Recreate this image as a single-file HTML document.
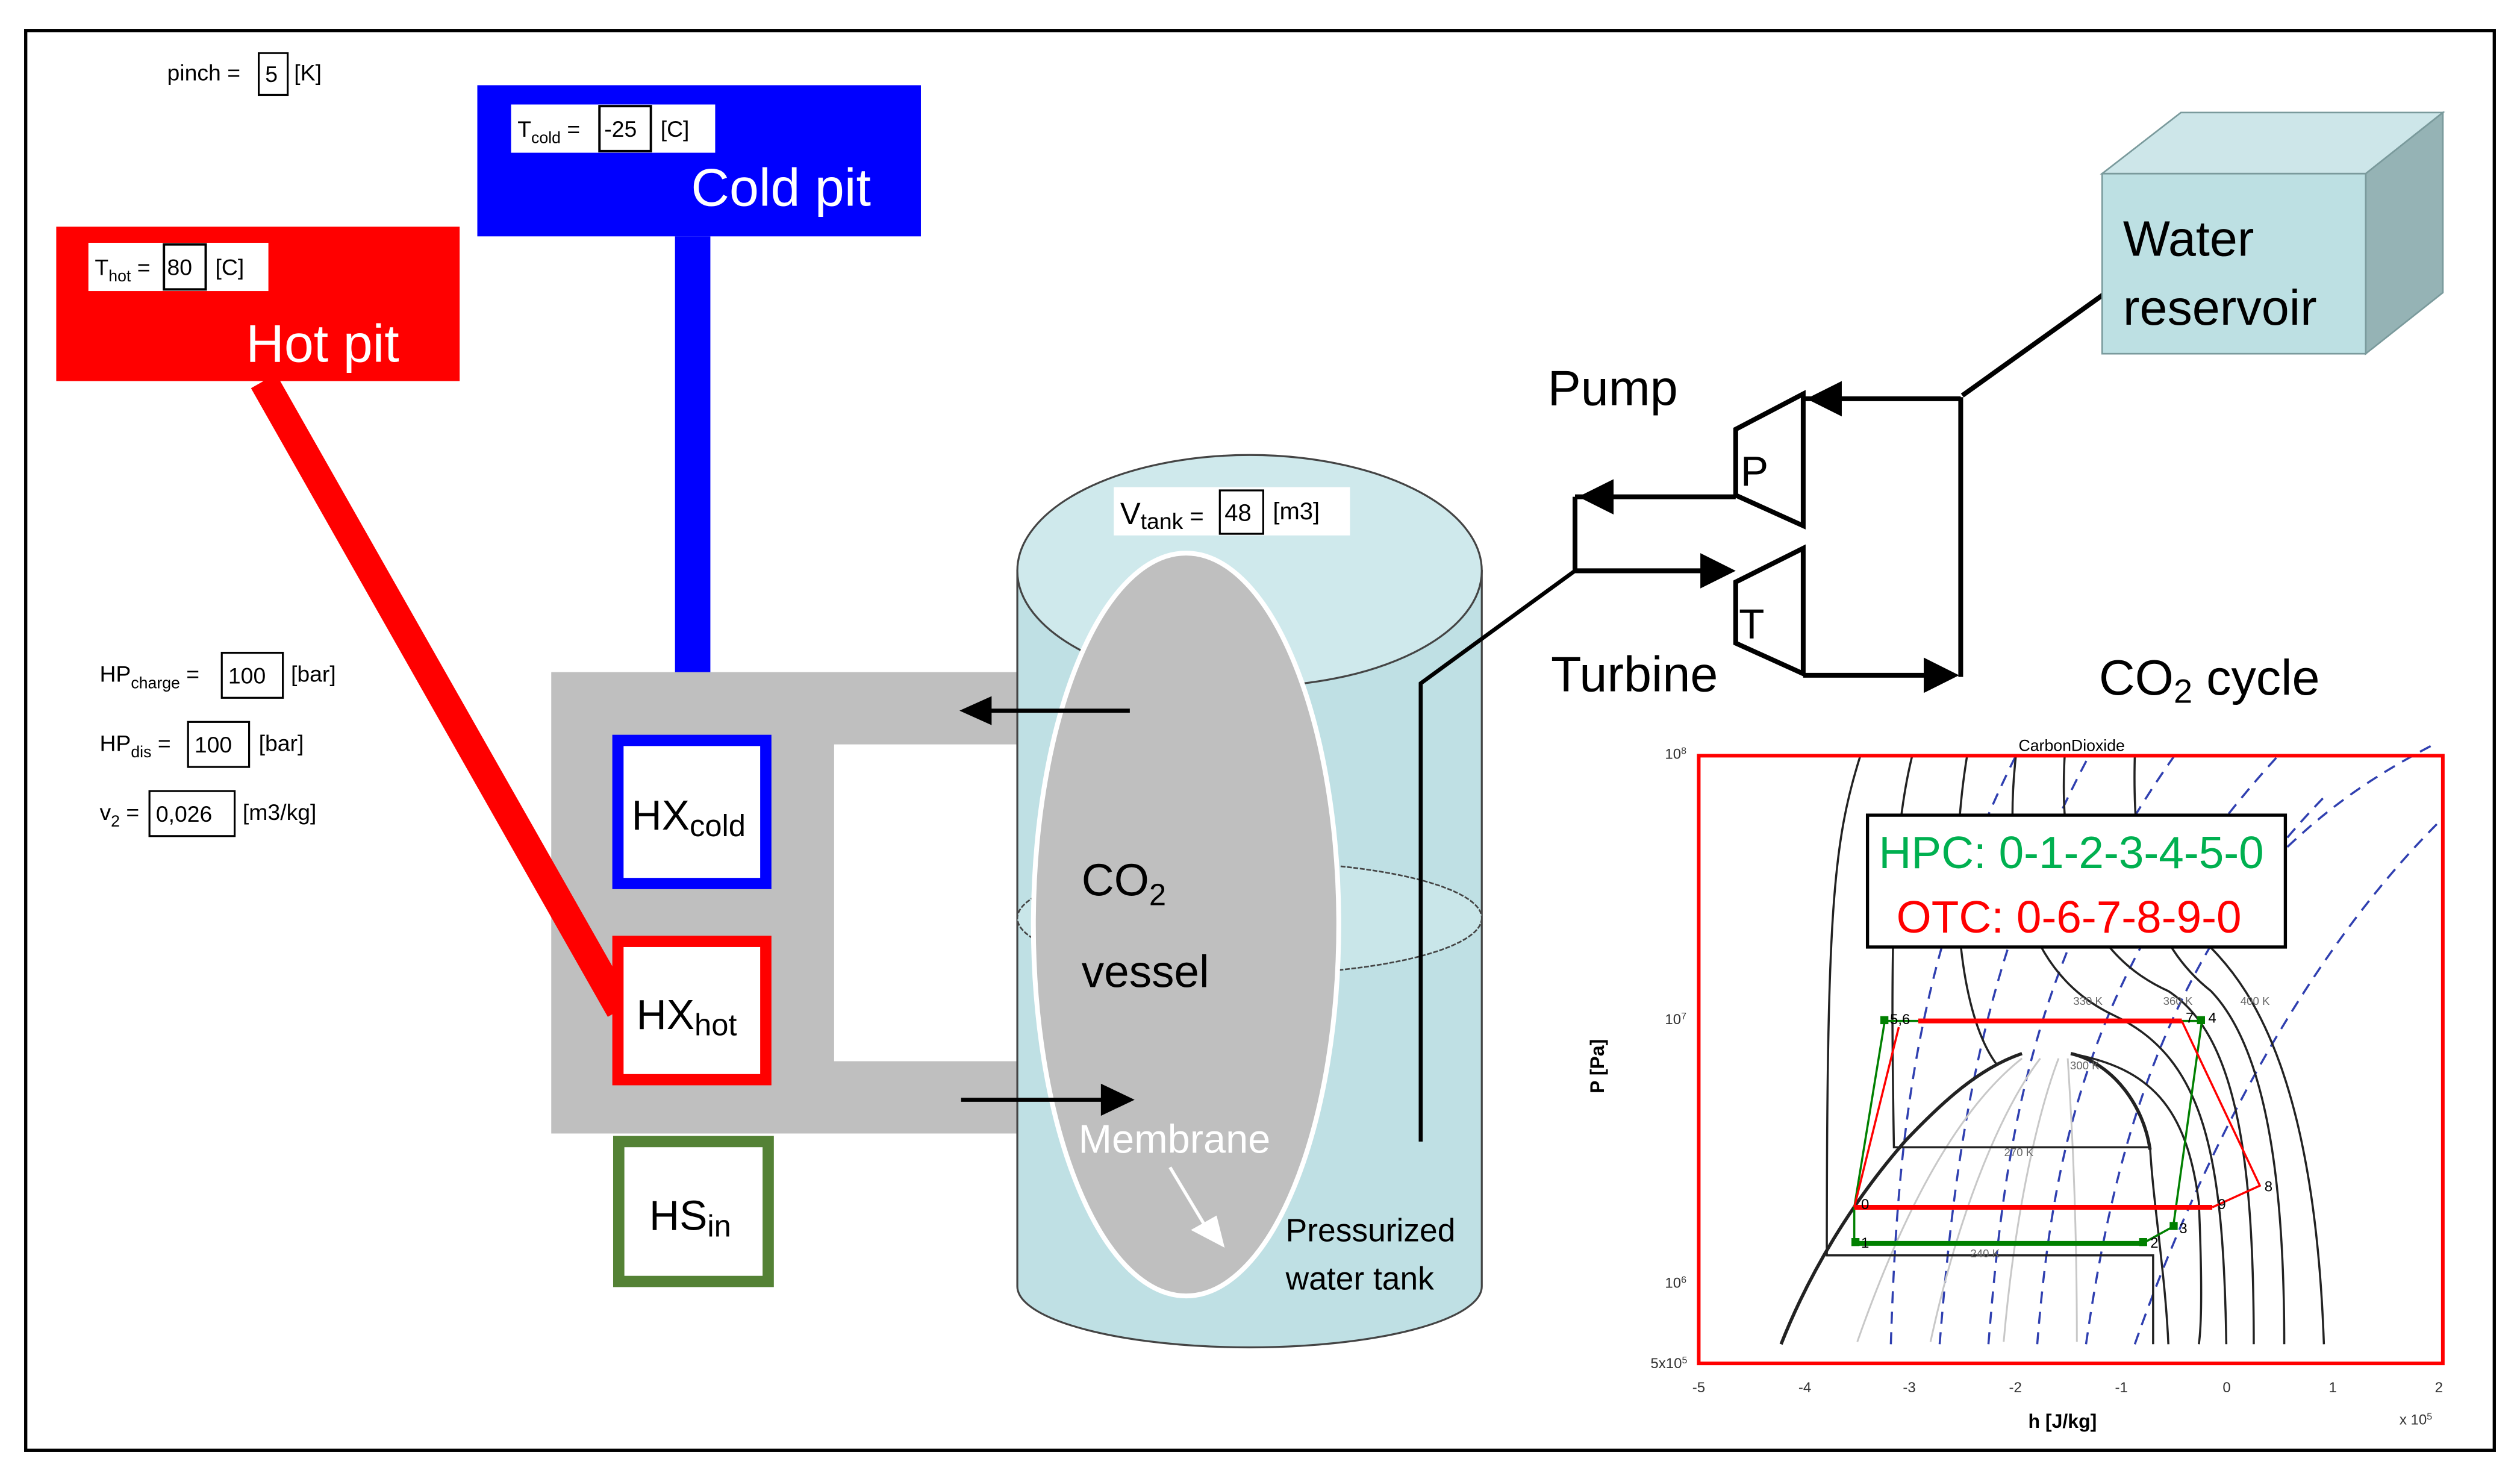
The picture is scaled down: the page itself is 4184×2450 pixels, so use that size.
<!DOCTYPE html>
<html><head><meta charset="utf-8"><style>
html,body{margin:0;padding:0;background:#fff;}
svg{display:block;}
text{font-family:"Liberation Sans",sans-serif;}
</style></head><body>
<svg width="4184" height="2450" viewBox="0 0 1568 918" preserveAspectRatio="none" xmlns="http://www.w3.org/2000/svg">
<rect x="0" y="0" width="1568" height="918" fill="#fff"/>
<rect x="16" y="19" width="1536" height="883" fill="none" stroke="#000" stroke-width="2"/>

<text x="104" y="50" font-size="14">pinch =</text>
<rect x="161" y="33" width="18" height="26" fill="#fff" stroke="#000" stroke-width="1.2"/>
<text x="165" y="51" font-size="14">5</text>
<text x="183" y="50" font-size="14">[K]</text>

<rect x="297" y="53" width="276" height="94" fill="#0000ff"/>
<rect x="318" y="65" width="127" height="30" fill="#fff"/>
<text x="322" y="85" font-size="14">T<tspan font-size="10" dy="4">cold</tspan><tspan dy="-4"> =</tspan></text>
<rect x="373" y="66" width="32" height="28" fill="#fff" stroke="#000" stroke-width="1.5"/>
<text x="376" y="85" font-size="14">-25</text>
<text x="411" y="85" font-size="14">[C]</text>
<text x="430" y="128" font-size="33" fill="#fff">Cold pit</text>
<rect x="420" y="147" width="22" height="313" fill="#0000ff"/>

<rect x="35" y="141" width="251" height="96" fill="#ff0000"/>
<rect x="55" y="151" width="112" height="30" fill="#fff"/>
<text x="59" y="171" font-size="14">T<tspan font-size="10" dy="4">hot</tspan><tspan dy="-4"> =</tspan></text>
<rect x="102" y="152" width="26" height="28" fill="#fff" stroke="#000" stroke-width="1.5"/>
<text x="104" y="171" font-size="14">80</text>
<text x="134" y="171" font-size="14">[C]</text>
<text x="153" y="225" font-size="33" fill="#fff">Hot pit</text>

<path d="M343,418 H660 V705 H343 Z M519,463 V660 H640 V463 Z" fill="#bfbfbf" fill-rule="evenodd"/>
<line x1="164" y1="237" x2="386" y2="628" stroke="#ff0000" stroke-width="18"/>

<rect x="384.5" y="460.5" width="92" height="89" fill="#fff" stroke="#0000ff" stroke-width="7"/>
<text x="393" y="516" font-size="26">HX<tspan font-size="19" dy="4">cold</tspan></text>
<rect x="384.5" y="585.5" width="92" height="86" fill="#fff" stroke="#ff0000" stroke-width="7"/>
<text x="396" y="640" font-size="26">HX<tspan font-size="19" dy="4">hot</tspan></text>
<rect x="385" y="710" width="93" height="87" fill="#fff" stroke="#548235" stroke-width="7"/>
<text x="404" y="765" font-size="26">HS<tspan font-size="19" dy="4">in</tspan></text>

<text x="62" y="424" font-size="14">HP<tspan font-size="10" dy="4">charge</tspan><tspan dy="-4"> =</tspan></text>
<rect x="138" y="406" width="38" height="28" fill="#fff" stroke="#000" stroke-width="1.2"/>
<text x="142" y="425" font-size="14">100</text>
<text x="181" y="424" font-size="14">[bar]</text>
<text x="62" y="467" font-size="14">HP<tspan font-size="10" dy="4">dis</tspan><tspan dy="-4"> =</tspan></text>
<rect x="117" y="449" width="38" height="28" fill="#fff" stroke="#000" stroke-width="1.2"/>
<text x="121" y="468" font-size="14">100</text>
<text x="161" y="467" font-size="14">[bar]</text>
<text x="62" y="510" font-size="14">v<tspan font-size="10" dy="4">2</tspan><tspan dy="-4"> =</tspan></text>
<rect x="93" y="492" width="53" height="28" fill="#fff" stroke="#000" stroke-width="1.2"/>
<text x="97" y="511" font-size="14">0,026</text>
<text x="151" y="510" font-size="14">[m3/kg]</text>

<path d="M633,355 V800 A144.5,38 0 0 0 922,800 V355 Z" fill="#bfe0e4" stroke="#444" stroke-width="1.2"/>
<ellipse cx="777.5" cy="355" rx="144.5" ry="72" fill="#cfe9ec" stroke="#444" stroke-width="1.2"/>
<ellipse cx="777.5" cy="571" rx="144.5" ry="35" fill="#c9e6e9" stroke="#444" stroke-width="1" stroke-dasharray="3,1"/>
<ellipse cx="738" cy="575" rx="95" ry="231" fill="#bfbfbf" stroke="#fff" stroke-width="3"/>
<rect x="693" y="303" width="147" height="30" fill="#fff"/>
<text x="697" y="326" font-size="19">V<tspan font-size="14" dy="3">tank</tspan><tspan dy="-3" font-size="15"> =</tspan></text>
<rect x="759" y="305" width="27" height="27" fill="#fff" stroke="#000" stroke-width="1.2"/>
<text x="762" y="324" font-size="15">48</text>
<text x="792" y="323" font-size="15">[m3]</text>
<text x="673" y="557" font-size="28">CO<tspan font-size="19" dy="6">2</tspan></text>
<text x="673" y="614" font-size="28">vessel</text>
<text x="671" y="717" font-size="25" fill="#fff">Membrane</text>
<line x1="728" y1="726" x2="752" y2="766" stroke="#fff" stroke-width="2"/>
<path d="M762,776 L741,765 L757,756 Z" fill="#fff"/>
<text x="800" y="772" font-size="20">Pressurized</text>
<text x="800" y="802" font-size="20">water tank</text>

<line x1="703" y1="442" x2="612" y2="442" stroke="#000" stroke-width="2.5"/>
<path d="M597,442 L617,433 L617,451 Z" fill="#000"/>
<line x1="598" y1="684" x2="688" y2="684" stroke="#000" stroke-width="2.5"/>
<path d="M706,684 L685,674 L685,694 Z" fill="#000"/>

<polyline points="884,710 884,425 980,355" fill="none" stroke="#000" stroke-width="2.5"/>
<line x1="980" y1="309" x2="980" y2="356" stroke="#000" stroke-width="3"/>
<line x1="980" y1="309" x2="1080" y2="309" stroke="#000" stroke-width="3"/>
<path d="M982,309 L1004,298 L1004,320 Z" fill="#000"/>
<line x1="980" y1="355" x2="1064" y2="355" stroke="#000" stroke-width="3"/>
<path d="M1080,355 L1058,344 L1058,366 Z" fill="#000"/>
<path d="M1080,267 L1122,245 L1122,327 L1080,308 Z" fill="#fff" stroke="#000" stroke-width="3"/>
<text x="1083" y="302" font-size="26">P</text>
<path d="M1080,362 L1122,341 L1122,419 L1080,400 Z" fill="#fff" stroke="#000" stroke-width="3"/>
<text x="1082" y="397" font-size="26">T</text>
<line x1="1122" y1="248" x2="1220" y2="248" stroke="#000" stroke-width="3"/>
<path d="M1124,248 L1146,237 L1146,259 Z" fill="#000"/>
<line x1="1220" y1="247" x2="1220" y2="421" stroke="#000" stroke-width="3"/>
<line x1="1122" y1="420" x2="1202" y2="420" stroke="#000" stroke-width="3"/>
<path d="M1219,420 L1197,409 L1197,431 Z" fill="#000"/>
<line x1="1221" y1="246" x2="1309" y2="183" stroke="#000" stroke-width="3"/>
<text x="963" y="252" font-size="31">Pump</text>
<text x="965" y="430" font-size="31">Turbine</text>
<text x="1306" y="432" font-size="31">CO<tspan font-size="21" dy="5">2</tspan><tspan dy="-5"> cycle</tspan></text>

<path d="M1308,108 L1357,70 L1520,70 L1472,108 Z" fill="#cde6e9" stroke="#7a9a9c" stroke-width="1"/>
<path d="M1472,108 L1520,70 L1520,182 L1472,220 Z" fill="#95b3b5" stroke="#7a9a9c" stroke-width="1"/>
<rect x="1308" y="108" width="164" height="112" fill="#bde0e3" stroke="#7a9a9c" stroke-width="1"/>
<text x="1321" y="159" font-size="31">Water</text>
<text x="1321" y="202" font-size="31">reservoir</text>

<g transform="translate(973.5,449.1) scale(0.3795,0.2988)" fill="none">
  <g stroke="#2f3fb0" stroke-width="3.5" stroke-dasharray="20,14">
    <path d="M535,1295 C545,900 570,500 740,70" vector-effect="non-scaling-stroke"/>
    <path d="M615,1295 C640,900 680,500 860,70" vector-effect="non-scaling-stroke"/>
    <path d="M695,1295 C720,900 760,500 1000,70" vector-effect="non-scaling-stroke"/>
    <path d="M775,1295 C800,900 860,500 1170,70" vector-effect="non-scaling-stroke"/>
    <path d="M855,1295 C900,900 980,500 1250,150" vector-effect="non-scaling-stroke"/>
    <path d="M935,1295 C1030,950 1200,500 1440,200" vector-effect="non-scaling-stroke"/>
    <path d="M1185,260 C1260,170 1330,110 1420,50" vector-effect="non-scaling-stroke"/>
  </g>
  <g stroke="#c8c8c8" stroke-width="3">
    <path d="M480,1290 C560,1000 650,800 750,700" vector-effect="non-scaling-stroke"/>
    <path d="M600,1290 C650,1000 720,800 780,700" vector-effect="non-scaling-stroke"/>
    <path d="M720,1290 C740,1000 780,800 810,700" vector-effect="non-scaling-stroke"/>
    <path d="M840,1290 C840,1000 830,800 825,700" vector-effect="non-scaling-stroke"/>
  </g>
  <g stroke="#222" stroke-width="3.5">
    <path d="M485,70 C440,250 430,400 430,1110 L965,1110 L965,1295" vector-effect="non-scaling-stroke"/>
    <path d="M570,70 C535,250 535,500 540,885 L960,885 C965,1000 985,1150 990,1295" vector-effect="non-scaling-stroke"/>
    <path d="M660,70 C630,300 640,600 710,715 M830,690 C960,720 1020,800 1040,1000 C1045,1150 1045,1250 1040,1295" vector-effect="non-scaling-stroke"/>
    <path d="M740,70 C720,300 750,520 900,610 C1050,700 1080,900 1085,1295" vector-effect="non-scaling-stroke"/>
    <path d="M820,70 C810,300 850,480 990,560 C1100,650 1130,900 1130,1295" vector-effect="non-scaling-stroke"/>
    <path d="M935,70 C930,300 960,460 1060,560 C1150,680 1180,950 1180,1295" vector-effect="non-scaling-stroke"/>
    <path d="M1060,470 C1130,560 1230,750 1245,1295" vector-effect="non-scaling-stroke"/>
    <path d="M355,1295 C400,1150 470,1000 560,870 C620,790 680,720 750,690" stroke-width="5.5" vector-effect="non-scaling-stroke"/>
    <path d="M830,690 C900,710 950,800 960,890" stroke-width="5.5" vector-effect="non-scaling-stroke"/>
  </g>
  <g stroke="#008000" stroke-width="3.5">
    <path d="M475,1010 L475,1085 L948,1085 L998,1050 L1045,622 L525,622 Z" vector-effect="non-scaling-stroke"/>
    <path d="M475,1085 L948,1085" stroke-width="8" vector-effect="non-scaling-stroke"/>
  </g>
  <g stroke="#ff0000" stroke-width="3.5">
    <path d="M475,1010 L548,635 M1012,622 L1140,965 L1062,1010" vector-effect="non-scaling-stroke"/>
    <path d="M580,622 L1012,622 M475,1010 L1062,1010" stroke-width="8" vector-effect="non-scaling-stroke"/>
  </g>
  <rect x="220" y="70" width="1220" height="1265" stroke="#ff0000" stroke-width="6" vector-effect="non-scaling-stroke"/>
</g>
<g fill="#008000">
<rect x="1170" y="632" width="5" height="5"/><rect x="1367" y="632" width="5" height="5"/>
<rect x="1152" y="770" width="5" height="5"/><rect x="1331" y="770" width="5" height="5"/>
<rect x="1350" y="760" width="5" height="5"/>
</g>
<g font-size="9" fill="#000">
<text x="1176" y="637">5,6</text><text x="1360" y="636">7</text><text x="1374" y="636">4</text>
<text x="1158" y="752">0</text><text x="1380" y="752">9</text><text x="1409" y="741">8</text>
<text x="1158" y="776">1</text><text x="1338" y="776">2</text><text x="1356" y="767">3</text>
</g>
<g font-size="7" fill="#666">
<text x="1290" y="625">330 K</text><text x="1346" y="625">360 K</text><text x="1394" y="625">400 K</text>
<text x="1288" y="665">300 K</text><text x="1247" y="719">270 K</text><text x="1226" y="782">240 K</text>
</g>
<text x="1256" y="467" font-size="10">CarbonDioxide</text>
<g font-size="9" fill="#333">
<text x="1036" y="472">10<tspan font-size="6" dy="-3">8</tspan></text>
<text x="1036" y="637">10<tspan font-size="6" dy="-3">7</tspan></text>
<text x="1036" y="801">10<tspan font-size="6" dy="-3">6</tspan></text>
<text x="1027" y="851">5x10<tspan font-size="6" dy="-3">5</tspan></text>
<text x="1053" y="866">-5</text><text x="1119" y="866">-4</text><text x="1184" y="866">-3</text><text x="1250" y="866">-2</text>
<text x="1316" y="866">-1</text><text x="1383" y="866">0</text><text x="1449" y="866">1</text><text x="1515" y="866">2</text>
<text x="1493" y="886">x 10<tspan font-size="6" dy="-3">5</tspan></text>
</g>
<text x="1262" y="888" font-size="12" font-weight="bold">h [J/kg]</text>
<text x="0" y="0" font-size="12" font-weight="bold" transform="translate(998,680) rotate(-90)">P [Pa]</text>
<rect x="1162" y="507" width="260" height="82" fill="#fff" stroke="#000" stroke-width="2"/>
<text x="1169" y="540" font-size="28" fill="#00b050">HPC: 0-1-2-3-4-5-0</text>
<text x="1180" y="580" font-size="28" fill="#ff0000">OTC: 0-6-7-8-9-0</text>
</svg>
</body></html>
